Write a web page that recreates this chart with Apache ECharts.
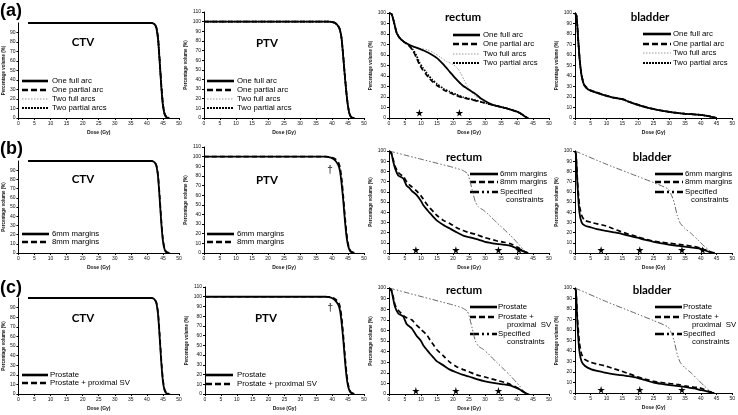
<!DOCTYPE html>
<html><head><meta charset="utf-8">
<script src="https://cdn.jsdelivr.net/npm/echarts/dist/echarts.min.js"></script>
<style>html,body{margin:0;padding:0;background:#fff}#c{width:738px;height:415px}</style>
</head><body><div id="c"></div>
<script>
// ---------- DATA (dose Gy, volume %) ----------
const doseTicks = [0,5,10,15,20,25,30,35,40,45,50];

// Row (a): arc comparison
const ctvA_oneFull    = [[3,100],[41.5,100],[42,99.5],[42.5,98],[43,94],[43.5,82],[44,58],[44.5,32],[45,13],[45.5,4],[46,1],[46.5,0.3],[47,0]];
const ctvA_onePartial = [[3,100],[41.5,100],[42,99.6],[42.5,98.5],[43,95],[43.5,84],[44,61],[44.5,35],[45,15],[45.5,5],[46,1.5],[46.5,0.4],[47,0]];
const ctvA_twoFull    = [[3,100],[41.5,100],[42,99.6],[42.5,98.2],[43,94.5],[43.5,83],[44,60],[44.5,33],[45,14],[45.5,4.5],[46,1.2],[46.5,0.3],[47,0]];
const ctvA_twoPartial = [[3,100],[41.5,100],[42,99.5],[42.5,98.3],[43,94.5],[43.5,83],[44,59],[44.5,34],[45,14],[45.5,4.5],[46,1.3],[46.5,0.3],[47,0]];

const ptvA_oneFull    = [[0,100],[39,100],[40,99.6],[41,98.5],[42,95],[42.5,91],[43,82],[43.5,64],[44,44],[44.5,26],[45,12],[45.5,4],[46,1],[46.5,0.2],[47,0]];
const ptvA_onePartial = [[0,100],[39,100],[40,99.7],[41,98.7],[42,95.5],[42.5,91.5],[43,83],[43.5,65],[44,45],[44.5,27],[45,12.5],[45.5,4.2],[46,1.1],[46.5,0.2],[47,0]];
const ptvA_twoFull    = [[0,100],[39,100],[40,99.6],[41,98.6],[42,95.2],[42.5,91.2],[43,82.5],[43.5,64.5],[44,44.5],[44.5,26.5],[45,12.2],[45.5,4.1],[46,1],[46.5,0.2],[47,0]];
const ptvA_twoPartial = [[0,100],[39,100],[40,99.6],[41,98.5],[42,95],[42.5,91],[43,82.2],[43.5,64.2],[44,44.2],[44.5,26.2],[45,12.1],[45.5,4],[46,1],[46.5,0.2],[47,0]];

const rectumA_oneFull    = [[0,100],[0.8,99],[1.5,92],[2.4,81],[3.4,76],[4.5,73],[5.5,71],[6.5,69.5],[7.6,68],[9,66.5],[11,64],[13,61],[15,57],[17,51],[19,44],[21,37],[23,31],[25,27],[27,23],[29,18],[31,14.5],[33,12],[35,10.5],[37,9],[39,7],[40,6],[41,4.5],[42,2.5],[43,0.5],[43.5,0]];
const rectumA_onePartial = [[0,100],[0.8,99],[1.5,92],[2.4,81],[3.4,76],[4.5,73],[5.5,70.5],[6.5,68],[7.5,64],[8.5,58],[9.5,51],[10.5,46],[11.5,42],[12.5,38],[13.5,35],[15,31],[17,27],[19,24],[21,21.5],[23,19.5],[25,18],[27,16.5],[29,15],[31,13.5],[33,12],[35,10.5],[37,9],[39,7],[40,6],[41,4.5],[42,2.5],[43,0.5],[43.5,0]];
const rectumA_twoFull    = [[0,100],[0.8,99],[1.5,92],[2.4,81],[3.4,76],[4.5,73],[5.5,71],[6.5,70],[8,67.5],[10,66],[12,65],[14,62],[16,58],[18,54],[20,51],[21.5,47],[22.5,42],[23.5,36],[24.5,30],[25.5,25.5],[27,21],[29,17.5],[31,14.5],[33,12],[35,10.5],[37,9],[39,7],[40,6],[41,4.5],[42,2.5],[43,0.5],[43.5,0]];
const rectumA_twoPartial = [[0,100],[0.8,99],[1.5,92],[2.4,81],[3.4,76],[4.5,73],[5.5,71],[6.5,68.5],[7.5,65],[8.5,60],[9.5,53],[10.5,48],[11.5,44],[12.5,40],[13.5,36.5],[15,32.5],[17,28],[19,25],[21,22.5],[23,20],[25,18.5],[27,17],[29,15.2],[31,13.6],[33,12],[35,10.5],[37,9],[39,7],[40,6],[41,4.5],[42,2.5],[43,0.5],[43.5,0]];
const rectumA_stars = [[9.5,5],[22,5]];

const bladderA_oneFull    = [[0,100],[0.5,97],[1,75],[1.5,55],[2,42],[2.5,35],[3,31],[4,27.5],[5,26],[6.5,24.5],[8,23],[10,21],[12,19.5],[14,18.5],[15.5,17.5],[17,15.5],[19,13.5],[21,11.5],[23,9.8],[25,8.5],[27,7.3],[29,6.3],[31,5.3],[33,4.6],[35,4],[37,3.6],[39,3.2],[41,2.5],[42.5,1.8],[43.5,1],[44.5,0.3],[45,0]];
const bladderA_onePartial = [[0,100],[0.5,97],[1,76],[1.5,56],[2,43],[2.5,35.5],[3,31.5],[4,28],[5,26.3],[6.5,24.8],[8,23.3],[10,21.3],[12,19.8],[14,18.7],[15.5,17.7],[17,15.7],[19,13.7],[21,11.7],[23,10],[25,8.7],[27,7.4],[29,6.4],[31,5.4],[33,4.7],[35,4.1],[37,3.7],[39,3.3],[41,2.6],[42.5,1.9],[43.5,1],[44.5,0.3],[45,0]];
const bladderA_twoFull    = [[0,100],[0.5,97],[1,75.5],[1.5,55.5],[2,42.5],[2.5,35.2],[3,31.2],[4,27.7],[5,26.1],[6.5,24.6],[8,23.1],[10,21.1],[12,19.6],[14,18.6],[15.5,17.6],[17,15.6],[19,13.6],[21,11.6],[23,9.9],[25,8.6],[27,7.3],[29,6.3],[31,5.3],[33,4.6],[35,4],[37,3.6],[39,3.2],[41,2.5],[42.5,1.8],[43.5,1],[44.5,0.3],[45,0]];
const bladderA_twoPartial = [[0,100],[0.5,97],[1,75],[1.5,55],[2,42],[2.5,35],[3,31],[4,27.5],[5,26],[6.5,24.5],[8,23],[10,21],[12,19.5],[14,18.5],[15.5,17.5],[17,15.5],[19,13.5],[21,11.5],[23,9.8],[25,8.5],[27,7.3],[29,6.3],[31,5.3],[33,4.6],[35,4],[37,3.6],[39,3.2],[41,2.5],[42.5,1.8],[43.5,1],[44.5,0.3],[45,0]];

// Row (b): margins
const ctvB_6mm = [[3,100],[41.5,100],[42,99.5],[42.5,98],[43,94],[43.5,82],[44,58],[44.5,32],[45,13],[45.5,4],[46,1],[46.5,0.3],[47,0]];
const ctvB_8mm = [[3,100],[41.5,100],[42,99.6],[42.5,98.4],[43,95],[43.5,84],[44,61],[44.5,35],[45,15],[45.5,5],[46,1.5],[46.5,0.4],[47,0]];
const ptvB_6mm = [[0,100],[38,100],[39,99.5],[40,98.5],[41,96],[42,91],[42.5,85],[43,72],[43.5,55],[44,35],[44.5,18],[45,8],[45.5,3],[46,1],[47,0]];
const ptvB_8mm = [[0,100],[38,100],[39,99.8],[40,99],[41,97.5],[42,94],[42.5,89],[43,78],[43.5,60],[44,40],[44.5,22],[45,10],[45.5,4],[46,1.5],[47,0]];
const ptvB_dagger = [[39.4,86]];

const rectumB_6mm  = [[0,100],[0.8,97],[1.3,90],[1.9,83],[2.9,76],[4,74],[4.5,73],[5.5,66],[6.3,64],[7.1,61],[8.6,57],[10,51],[10.7,47],[12,42],[12.8,39],[14,35],[14.9,32],[17,27.5],[19,24],[21,20.5],[23.2,17],[25,15.5],[27.4,13.5],[30,11],[33.6,9],[36,8],[38,7],[40,4.5],[41,3],[42,1.5],[43,0.4],[43.5,0]];
const rectumB_8mm  = [[0,100],[0.8,98],[1.3,92],[1.9,85],[2.9,79],[4,76],[4.5,75],[5.5,70],[6.3,67],[7.1,65],[8.6,61],[10,56],[10.7,53],[12,47],[12.8,44],[14,40],[14.9,37],[17,32],[19,29],[21,25],[23.2,22],[25,20],[27.4,18],[30,15],[33.6,12],[36,10.5],[38,9],[40,6],[41,4],[42,2],[43,0.6],[43.8,0]];
const rectumB_spec = [[0,100],[5,96],[10,92],[15,88],[20,84],[23,81],[24.5,78],[25,74],[26,62],[27,50],[28,45],[29.5,42],[31,38],[33.6,30],[36,23],[38,17],[40.7,8],[42,3],[43,0.5],[43.5,0]];
const rectumB_stars = [[8.4,3],[20.9,3],[34.2,3],[40.6,3]];

const bladderB_6mm  = [[0,100],[0.3,97],[0.8,66],[1.4,40],[2.1,30],[3.1,27],[5.2,25],[7,23.5],[9.4,22],[12,20.5],[14.6,19],[17,17],[19.8,15],[22,13],[25,11],[27.5,9.5],[30.2,8],[33,7],[35.4,6],[38,5],[39.6,4.5],[41,3],[42.7,1],[43.5,0.4],[44.3,0]];
const bladderB_8mm  = [[0,100],[0.3,97],[0.8,70],[1.4,47],[2.1,37],[3.1,32],[5.2,30],[7,28.5],[9.4,27],[12,24],[14.6,21],[17,18.5],[19.8,16],[22,14],[25,11.5],[27.5,10.5],[30.2,9.5],[33,8.5],[35.4,7.5],[38,6.2],[39.6,5],[41,3.5],[42.7,1.5],[43.5,0.6],[44.5,0]];
const bladderB_spec = [[0,100],[10,87],[20,75],[25,69],[29.5,63],[30.5,58],[31.5,50],[32.5,37],[33.5,29],[35,24],[37,19],[39,13],[41,7],[42.5,3],[43.5,0.5],[44,0]];
const bladderB_stars = [[8.3,3],[20.6,3],[34,3],[40.6,3]];

// Row (c): target volume
const ctvC_prostate   = [[3,100],[41.5,100],[42,99.5],[42.5,98],[43,94],[43.5,82],[44,58],[44.5,32],[45,13],[45.5,4],[46,1],[46.5,0.3],[47,0]];
const ctvC_prostateSV = [[3,100],[41.5,100],[42,99.6],[42.5,98.4],[43,95],[43.5,84],[44,61],[44.5,35],[45,15],[45.5,5],[46,1.5],[46.5,0.4],[47,0]];
const ptvC_prostate   = [[0,100],[38,100],[39,99.5],[40,98.5],[41,96],[42,91],[42.5,85],[43,72],[43.5,55],[44,35],[44.5,18],[45,8],[45.5,3],[46,1],[47,0]];
const ptvC_prostateSV = [[0,100],[38,100],[39,99.8],[40,99],[41,97.5],[42,94],[42.5,89],[43,78],[43.5,60],[44,40],[44.5,22],[45,10],[45.5,4],[46,1.5],[47,0]];
const ptvC_dagger = [[39.4,88]];

const rectumC_prostate   = [[0,100],[0.8,97],[1.3,90],[1.9,82],[2.9,76],[4,74],[4.5,73],[5.5,66],[6.3,64],[7.1,62],[8.6,55],[10,50],[10.7,46],[12,41],[12.8,38],[14,34],[14.9,31],[17,27],[19,23],[21,20.5],[23.2,18],[25,16.5],[27.4,14],[30,12],[33.6,10],[36,9],[38,8],[40,5.5],[41,4],[42,2],[43,0.5],[43.5,0]];
const rectumC_prostateSV = [[0,100],[0.8,98],[1.3,92],[1.9,84],[2.9,79],[4.5,74],[5.5,72],[7.1,70],[8.6,65],[10,61],[10.7,59],[12,55],[12.8,51],[14,46],[14.9,42],[17,36],[19,30],[21,26],[23.2,23],[25,21],[27.4,18],[30,16],[33.6,13],[36,11],[38,9],[40,6],[41,4],[42,2],[43,0.6],[43.8,0]];
const rectumC_spec = [[0,100],[5,96],[10,92],[15,88],[20,84],[23,81],[24.5,78],[25,74],[26,62],[27,50],[28,45],[29.5,42],[31,38],[33.6,30],[36,23],[38,17],[40.7,8],[42,3],[43,0.5],[43.5,0]];
const rectumC_stars = [[8.4,3],[20.9,3],[34.2,3]];

const bladderC_prostate   = [[0,100],[0.3,97],[0.8,64],[1.4,40],[2.1,30],[3.1,26],[5.2,22.5],[7,21],[9.4,19.5],[12,18],[14.6,17],[17,16],[19.8,14.5],[22,12.5],[25,10],[27.5,8.7],[30.2,7.5],[33,6.5],[35.4,5.5],[38,4.3],[39.6,3],[41,2.3],[42.7,1],[43.5,0.4],[44.3,0]];
const bladderC_prostateSV = [[0,100],[0.3,97],[0.8,70],[1.4,48],[2.1,37],[3.1,32],[5.2,29],[7,27.5],[9.4,26],[12,23.5],[14.6,21],[17,18.5],[19.8,15.5],[22,13.5],[25,11],[27.5,10],[30.2,9],[33,8],[35.4,6.5],[38,5.5],[39.6,5],[41,3.5],[42.7,1.5],[43.5,0.6],[44.5,0]];
const bladderC_spec = [[0,100],[10,87],[20,75],[25,69],[29.5,63],[30.5,58],[31.5,50],[32.5,37],[33.5,29],[35,24],[37,19],[39,13],[41,7],[42.5,3],[43.5,0.5],[44,0]];
const bladderC_stars = [[8.3,3],[20.6,3],[34,3]];

// ---------- STYLES ----------
const S = {
  solid:    {line:{color:'#000',width:1.8,type:'solid'}, leg:{stroke:'#000',lineWidth:2.6,lineDash:null}},
  dashed:   {line:{color:'#000',width:1.7,type:[5,3]}, leg:{stroke:'#000',lineWidth:2.6,lineDash:[6,3]}},
  greyDot:  {line:{color:'#9a9a9a',width:1,type:[1.5,1.5]}, leg:{stroke:'#9a9a9a',lineWidth:1,lineDash:[1.5,1.5]}},
  blackDot: {line:{color:'#000',width:1.7,type:[1.6,1.4]}, leg:{stroke:'#000',lineWidth:2,lineDash:[2,1]}},
  dashDot:  {line:{color:'#666',width:1,type:[6,2,1.5,2,1.5,2]}, leg:{stroke:'#000',lineWidth:2.4,lineDash:[9,3,2,3,2,3]}}
};
const starPath = 'path://M50,0 L61,35 L98,35 L68,57 L79,91 L50,70 L21,91 L32,57 L2,35 L39,35 Z';

const panels = [
  // row a
  {g:[17,23,162,95], ymax:100, hideMax:true, title:'CTV', tp:[83,42],
   s:[[ctvA_twoFull,'greyDot'],[ctvA_twoPartial,'blackDot'],[ctvA_onePartial,'dashed'],[ctvA_oneFull,'solid']],
   leg:{x:22,len:26,tx:52,rows:[[81,'solid','One full arc'],[90,'dashed','One partial arc'],[99,'greyDot','Two full arcs'],[108,'blackDot','Two partial arcs']]}},
  {g:[204,12,160,106], ymax:110, title:'PTV', tp:[267,43],
   s:[[ptvA_twoFull,'greyDot'],[ptvA_twoPartial,'blackDot'],[ptvA_onePartial,'dashed'],[ptvA_oneFull,'solid']],
   leg:{x:207,len:27,tx:237,rows:[[81,'solid','One full arc'],[90,'dashed','One partial arc'],[99,'greyDot','Two full arcs'],[108,'blackDot','Two partial arcs']]}},
  {g:[389,13,160,105], ymax:100, title:'rectum', tp:[463,17], stars:rectumA_stars,
   s:[[rectumA_twoFull,'greyDot'],[rectumA_twoPartial,'blackDot'],[rectumA_onePartial,'dashed'],[rectumA_oneFull,'solid']],
   leg:{x:453,len:27,tx:483,rows:[[35,'solid','One full arc'],[44,'dashed','One partial arc'],[54,'greyDot','Two full arcs'],[63,'blackDot','Two partial arcs']]}},
  {g:[575,13,160,105], ymax:100, title:'bladder', tp:[650,17],
   s:[[bladderA_twoFull,'greyDot'],[bladderA_twoPartial,'blackDot'],[bladderA_onePartial,'dashed'],[bladderA_oneFull,'solid']],
   leg:{x:643,len:28,tx:673,rows:[[34,'solid','One full arc'],[44,'dashed','One partial arc'],[53,'greyDot','Two full arcs'],[63,'blackDot','Two partial arcs']]}},
  // row b
  {g:[17,161,162,92], ymax:100, hideMax:true, title:'CTV', tp:[83,179],
   s:[[ctvB_8mm,'dashed'],[ctvB_6mm,'solid']],
   leg:{x:22,len:27,tx:52,rows:[[234,'solid','6mm margins'],[242,'dashed','8mm margins']]}},
  {g:[204,147,160,106], ymax:110, title:'PTV', tp:[267,180], dagger:ptvB_dagger,
   s:[[ptvB_8mm,'dashed'],[ptvB_6mm,'solid']],
   leg:{x:207,len:27,tx:237,rows:[[234,'solid','6mm margins'],[242,'dashed','8mm margins']]}},
  {g:[389,151,160,102], ymax:100, title:'rectum', tp:[464,157], stars:rectumB_stars,
   s:[[rectumB_spec,'dashDot'],[rectumB_8mm,'dashed'],[rectumB_6mm,'solid']],
   leg:{x:470,len:28,tx:500,rows:[[174,'solid','6mm margins'],[182,'dashed','8mm margins'],[192,'dashDot','Specified']],extra:[['constraints',506,200]]}},
  {g:[575,151,160,102], ymax:100, title:'bladder', tp:[652,157], stars:bladderB_stars,
   s:[[bladderB_spec,'dashDot'],[bladderB_8mm,'dashed'],[bladderB_6mm,'solid']],
   leg:{x:655,len:28,tx:685,rows:[[174,'solid','6mm margins'],[182,'dashed','8mm margins'],[192,'dashDot','Specified']],extra:[['constraints',691,200]]}},
  // row c
  {g:[17,298,162,96], ymax:100, hideMax:true, title:'CTV', tp:[83,318],
   s:[[ctvC_prostateSV,'dashed'],[ctvC_prostate,'solid']],
   leg:{x:22,len:26,tx:50,rows:[[375,'solid','Prostate'],[383,'dashed','Prostate + proximal SV']]}},
  {g:[205,287,159,107], ymax:110, title:'PTV', tp:[266,318], dagger:ptvC_dagger,
   s:[[ptvC_prostateSV,'dashed'],[ptvC_prostate,'solid']],
   leg:{x:206,len:27,tx:237,rows:[[375,'solid','Prostate'],[384,'dashed','Prostate + proximal SV']]}},
  {g:[389,288,160,106], ymax:100, title:'rectum', tp:[464,290], stars:rectumC_stars,
   s:[[rectumC_spec,'dashDot'],[rectumC_prostateSV,'dashed'],[rectumC_prostate,'solid']],
   leg:{x:470,len:27,tx:498,rows:[[307,'solid','Prostate'],[317,'dashed','Prostate +'],[334,'dashDot','Specified']],extra:[['proximal  SV',507,325],['constraints',507,342]]}},
  {g:[575,288,160,105], ymax:100, title:'bladder', tp:[652,290], stars:bladderC_stars,
   s:[[bladderC_spec,'dashDot'],[bladderC_prostateSV,'dashed'],[bladderC_prostate,'solid']],
   leg:{x:655,len:27,tx:683,rows:[[307,'solid','Prostate'],[317,'dashed','Prostate +'],[334,'dashDot','Specified']],extra:[['proximal  SV',692,325],['constraints',692,342]]}}
];

const rowLabels = [['(a)',0,11],['(b)',0,149],['(c)',0,288]];

// ---------- BUILD ----------
const grids=[], xAxes=[], yAxes=[], series=[], graphics=[];
const tickFont = {fontSize:5, color:'#111', fontFamily:'Liberation Sans'};
panels.forEach((p,i)=>{
  grids.push({left:p.g[0], top:p.g[1], width:p.g[2], height:p.g[3]});
  xAxes.push({gridIndex:i, type:'value', min:doseTicks[0], max:doseTicks[doseTicks.length-1], interval:5,
    name:'Dose (Gy)', nameLocation:'middle', nameGap:12,
    nameTextStyle:{fontSize:5, fontWeight:'bold', color:'#111', fontFamily:'Liberation Sans'},
    axisLine:{lineStyle:{color:'#000',width:1}}, axisTick:{length:2, lineStyle:{color:'#000'}},
    axisLabel:Object.assign({margin:3}, tickFont), splitLine:{show:false}});
  yAxes.push({gridIndex:i, type:'value', min:0, max:p.ymax, interval:10,
    name:'Percentage volume (%)', nameLocation:'middle', nameGap:11,
    nameTextStyle:{fontSize:4.5, fontWeight:'bold', color:'#111', fontFamily:'Liberation Sans'},
    axisLine:{show:true, lineStyle:{color:'#000',width:1}}, axisTick:{show:true,length:2, lineStyle:{color:'#000'}},
    axisLabel:Object.assign({margin:3, showMaxLabel:!p.hideMax}, tickFont), splitLine:{show:false}});
  p.s.forEach(([data,st])=>{
    series.push({type:'line', xAxisIndex:i, yAxisIndex:i, data:data, symbol:'none', smooth:0.2,
      lineStyle:S[st].line, animation:false, silent:true});
  });
  if(p.stars) series.push({type:'scatter', xAxisIndex:i, yAxisIndex:i, data:p.stars, symbol:starPath,
      symbolSize:7.5, itemStyle:{color:'#000', opacity:1}, animation:false, silent:true, z:5});
  if(p.dagger) series.push({type:'scatter', xAxisIndex:i, yAxisIndex:i, data:p.dagger, symbolSize:1,
      itemStyle:{color:'rgba(0,0,0,0)'}, label:{show:true, position:'inside', formatter:'\u2020',
      fontSize:10, fontWeight:'bold', color:'#000', fontFamily:'Liberation Sans'}, animation:false, silent:true, z:5});
  graphics.push({type:'text', x:p.tp[0], y:p.tp[1], style:{text:p.title, x:0, y:0,
      textAlign:'center', textVerticalAlign:'middle', font:'bold 11.5px Lato', fill:'#000'}});
  const L=p.leg;
  L.rows.forEach(([y,st,txt])=>{
    graphics.push({type:'line', shape:{x1:L.x, y1:y, x2:L.x+L.len, y2:y}, style:Object.assign({}, S[st].leg)});
    graphics.push({type:'text', x:L.tx, y:y, style:{text:txt, textAlign:'left', textVerticalAlign:'middle',
      font:'7.8px "Liberation Sans"', fill:'#000'}});
  });
  (L.extra||[]).forEach(([txt,x,y])=>{
    graphics.push({type:'text', x:x, y:y, style:{text:txt, textAlign:'left', textVerticalAlign:'middle',
      font:'7.8px "Liberation Sans"', fill:'#000'}});
  });
});
rowLabels.forEach(([t,x,y])=>{
  graphics.push({type:'text', x:x, y:y, style:{text:t, textAlign:'left', textVerticalAlign:'middle',
    font:'bold 18px "Liberation Sans"', fill:'#000'}});
});

const chart = echarts.init(document.getElementById('c'), null, {renderer:'canvas'});
chart.setOption({animation:false, backgroundColor:'#fff', grid:grids, xAxis:xAxes, yAxis:yAxes, series:series, graphic:graphics});
</script></body></html>
